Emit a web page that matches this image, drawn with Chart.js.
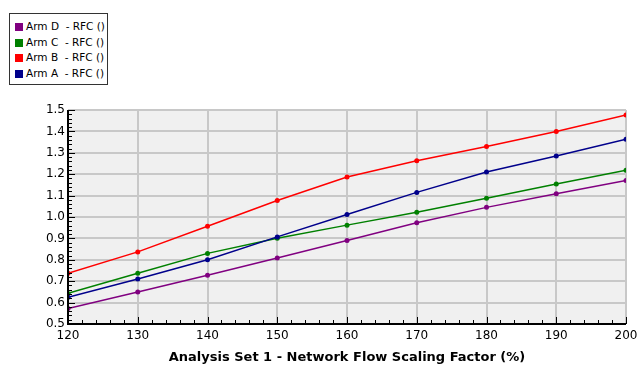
<!DOCTYPE html>
<html>
<head>
<meta charset="utf-8">
<script src="https://cdn.jsdelivr.net/npm/chart.js@4"></script>
<style>
  html, body { margin: 0; padding: 0; background: #fff; }
  #wrap { position: relative; width: 637px; height: 365px; }
  #legend {
    position: absolute; left: 9px; top: 13px; width: 99px; height: 72px;
    border: 1px solid #333; background: #fff;
    font-family: "DejaVu Sans", Verdana, sans-serif; font-size: 10.5px; color: #000;
    padding-top: 5px; box-sizing: border-box;
  }
  #legend .row { height: 15.7px; line-height: 15.7px; white-space: pre; position: relative; padding-left: 16px; }
  #legend .sw { position: absolute; left: 5px; top: 4px; width: 8px; height: 8px; }
</style>
</head>
<body>
<div id="wrap">
  <canvas id="chart" width="637" height="365"></canvas>
  <div id="legend"></div>
</div>
<script>
const xValues = [120, 130, 140, 150, 160, 170, 180, 190, 200];
const armA = [0.625, 0.71, 0.80, 0.907, 1.012, 1.115, 1.21, 1.285, 1.363];
const armB = [0.737, 0.837, 0.957, 1.077, 1.187, 1.263, 1.329, 1.40, 1.477];
const armC = [0.643, 0.737, 0.83, 0.901, 0.962, 1.022, 1.088, 1.154, 1.219];
const armD = [0.572, 0.65, 0.728, 0.808, 0.89, 0.973, 1.045, 1.109, 1.171];
const seriesNames = ["Arm A  - RFC ()", "Arm B  - RFC ()", "Arm C  - RFC ()", "Arm D  - RFC ()"];
const seriesColors = ["#00008b", "#ff0000", "#008000", "#800080"];
const xTitle = "Analysis Set 1 - Network Flow Scaling Factor (%)";

const allSeries = [armA, armB, armC, armD];

// legend lists D..A like the original
const legendEl = document.getElementById("legend");
for (let i = allSeries.length - 1; i >= 0; i--) {
  const row = document.createElement("div");
  row.className = "row";
  row.innerHTML = '<span class="sw" style="background:' + seriesColors[i] + '"></span>' + seriesNames[i];
  legendEl.appendChild(row);
}

const plotBackground = {
  id: "plotBackground",
  beforeDraw(chart) {
    const { ctx, chartArea: a } = chart;
    ctx.save();
    ctx.fillStyle = "#f0f0f0";
    ctx.fillRect(a.left, a.top, a.right - a.left, a.bottom - a.top);
    ctx.restore();
  }
};

// black axes with inward major/minor tick marks
const axisTicks = {
  id: "axisTicks",
  afterDatasetsDraw(chart) {
    const { ctx, chartArea: a, scales } = chart;
    ctx.save();
    ctx.strokeStyle = "#000";
    ctx.lineWidth = 1;
    ctx.beginPath();
    for (let v = 120; v <= 200.001; v += 2) {
      const px = Math.round(scales.x.getPixelForValue(v)) + 0.5;
      const len = (Math.round(v) % 10 === 0) ? 7 : 4;
      ctx.moveTo(px, a.bottom);
      ctx.lineTo(px, a.bottom - len);
    }
    for (let i = 0; i <= 50; i++) {
      const v = 0.5 + i * 0.02;
      const py = Math.round(scales.y.getPixelForValue(v)) + 0.5;
      const len = (i % 5 === 0) ? 7 : 4;
      ctx.moveTo(a.left, py);
      ctx.lineTo(a.left + len, py);
    }
    ctx.stroke();
    ctx.lineWidth = 2;
    ctx.beginPath();
    ctx.moveTo(a.left, a.top);
    ctx.lineTo(a.left, a.bottom);
    ctx.lineTo(a.right, a.bottom);
    ctx.stroke();
    ctx.restore();
  }
};

const datasets = allSeries.map((vals, i) => ({
  label: seriesNames[i],
  data: xValues.map((x, j) => ({ x: x, y: vals[j] })),
  borderColor: seriesColors[i],
  backgroundColor: seriesColors[i],
  borderWidth: 1.5,
  pointRadius: 2.5,
  pointBorderWidth: 0,
  tension: 0
}));

new Chart(document.getElementById("chart"), {
  type: "line",
  data: { datasets: datasets },
  plugins: [plotBackground, axisTicks],
  options: {
    responsive: false,
    animation: false,
    layout: { padding: { left: 0, right: 11, top: 110, bottom: 0 } },
    plugins: { legend: { display: false }, tooltip: { enabled: false } },
    scales: {
      x: {
        type: "linear",
        min: 120, max: 200,
        afterFit(s) { s.height = 41; s.paddingLeft = 0; s.paddingRight = 0; },
        ticks: {
          stepSize: 10, padding: 5,
          color: "#000",
          font: { family: "DejaVu Sans", size: 12 }
        },
        grid: { color: "#c8c8c8", lineWidth: 2, drawTicks: false },
        border: { display: false },
        title: {
          display: true, text: xTitle, color: "#000",
          font: { family: "DejaVu Sans", size: 13, weight: "bold" },
          padding: { top: 3, bottom: 0 }
        }
      },
      y: {
        min: 0.5, max: 1.5,
        afterFit(s) { s.width = 68; s.paddingTop = 0; s.paddingBottom = 0; },
        ticks: {
          stepSize: 0.1, padding: 3,
          color: "#000",
          font: { family: "DejaVu Sans", size: 12 },
          callback: (v) => Number(v).toFixed(1)
        },
        grid: { color: "#c8c8c8", lineWidth: 2, drawTicks: false },
        border: { display: false }
      }
    }
  }
});
</script>
</body>
</html>
